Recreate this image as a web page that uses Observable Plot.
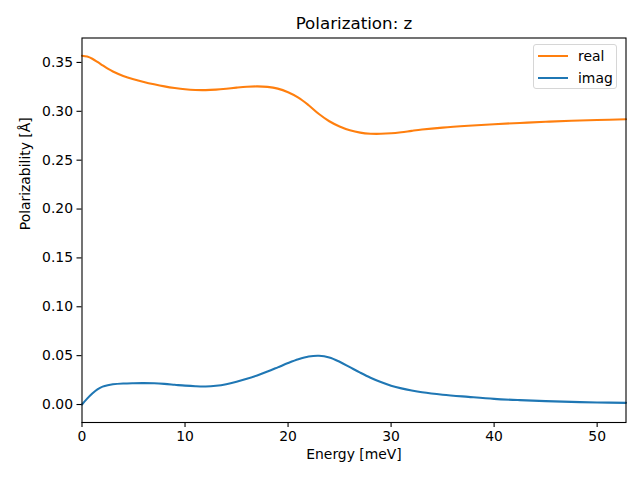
<!DOCTYPE html>
<html>
<head>
<meta charset="utf-8">
<script src="https://cdn.jsdelivr.net/npm/d3@7"></script>
<script src="https://cdn.jsdelivr.net/npm/@observablehq/plot@0.6"></script>
<style>
  html, body { margin: 0; padding: 0; background: #fff; }
  #wrap { position: relative; width: 640px; height: 480px; font-family: "DejaVu Sans", sans-serif; }
  #legend { position: absolute; left: 533px; top: 44px; width: 84px; height: 45px;
    border: 1px solid #d6d6d6; border-radius: 3px; background: rgba(255,255,255,0.8); box-sizing: border-box; }
  .item { position: absolute; left: 4px; height: 14px; display: flex; align-items: center; font-size: 13.9px; color: #000; }
  .sw { width: 30px; height: 2px; margin-right: 10px; }
</style>
</head>
<body>
<div id="wrap">
  <div id="chart"></div>
  <div id="legend"></div>
</div>
<script>
const energy = [0,0.5,1,1.5,2,2.5,3,4,5,6,7,8,9,10,11,12,13,14,15,16,17,18,19,20,21,22,23,24,25,26,27,28,29,30,31,32,33,35,37.5,40,42.5,45,47.5,50,52.8];
const realVals = [0.3569,0.3560,0.3538,0.3505,0.3470,0.3436,0.3407,0.3362,0.3328,0.3300,0.3276,0.3255,0.3238,0.3225,0.3218,0.3217,0.3222,0.3231,0.3242,0.3251,0.3255,0.3250,0.3232,0.3195,0.3140,0.3062,0.2972,0.2898,0.2845,0.2806,0.2782,0.2771,0.2770,0.2775,0.2786,0.2800,0.2813,0.2833,0.2852,0.2868,0.2881,0.2893,0.2904,0.2911,0.2918];
const imagVals = [0,0.0060,0.0112,0.0155,0.0183,0.0198,0.0207,0.0215,0.0218,0.0219,0.0217,0.0211,0.0202,0.0193,0.0187,0.0185,0.0192,0.0208,0.0233,0.0263,0.0298,0.0337,0.0380,0.0424,0.0463,0.0491,0.0499,0.0482,0.0438,0.0382,0.0326,0.0274,0.0230,0.0193,0.0165,0.0143,0.0125,0.0100,0.0078,0.0058,0.0045,0.0035,0.0027,0.0021,0.0017];
const xTicks = [0,10,20,30,40,50];
const yTicks = [0,0.05,0.10,0.15,0.20,0.25,0.30,0.35];
const seriesNames = ["real","imag"];
const seriesColors = ["#ff7f0e","#1f77b4"];
const titleText = "Polarization: z";
const xLabel = "Energy [meV]";
const yLabel = "Polarizability [Å]";

const realData = energy.map((e,i) => ({e, v: realVals[i]}));
const imagData = energy.map((e,i) => ({e, v: imagVals[i]}));

const fs = 13.9;
const chart = Plot.plot({
  width: 640, height: 480,
  marginLeft: 81.5, marginRight: 14.5, marginTop: 37.5, marginBottom: 58,
  style: {fontFamily: "DejaVu Sans", fontSize: fs + "px", color: "#000", background: "#fff"},
  x: {domain: [0, 52.8]},
  y: {domain: [-0.0184, 0.375]},
  marks: [
    Plot.line(realData, {x: "e", y: "v", stroke: seriesColors[0], strokeWidth: 2.1, curve: "catmull-rom"}),
    Plot.line(imagData, {x: "e", y: "v", stroke: seriesColors[1], strokeWidth: 2.1, curve: "catmull-rom"}),
    Plot.frame({stroke: "#000", strokeWidth: 1.1}),
    Plot.axisX({ticks: xTicks, tickSize: 5, tickPadding: 4, fontSize: fs, label: null, stroke: "#000", strokeWidth: 1.1}),
    Plot.axisY({ticks: yTicks, tickSize: 5, tickPadding: 4, fontSize: fs, tickFormat: d3.format(".2f"), label: null, stroke: "#000", strokeWidth: 1.1}),
    Plot.text([titleText], {frameAnchor: "top", text: d => d, dy: -9, lineAnchor: "bottom", fontSize: 16.7, fill: "#000"}),
    Plot.text([xLabel], {frameAnchor: "bottom", text: d => d, dy: 27, lineAnchor: "top", fontSize: fs, fill: "#000"}),
    Plot.text([yLabel], {frameAnchor: "left", text: d => d, dx: -56.5, rotate: -90, lineAnchor: "middle", fontSize: fs, fill: "#000"})
  ]
});
document.getElementById("chart").appendChild(chart);

const legend = document.getElementById("legend");
seriesNames.forEach((name, i) => {
  const it = document.createElement("div");
  it.className = "item";
  it.style.top = (i === 0 ? 4 : 26) + "px";
  const sw = document.createElement("div");
  sw.className = "sw";
  sw.style.background = seriesColors[i];
  const t = document.createElement("span");
  t.textContent = name;
  it.appendChild(sw); it.appendChild(t);
  legend.appendChild(it);
});
</script>
</body>
</html>
